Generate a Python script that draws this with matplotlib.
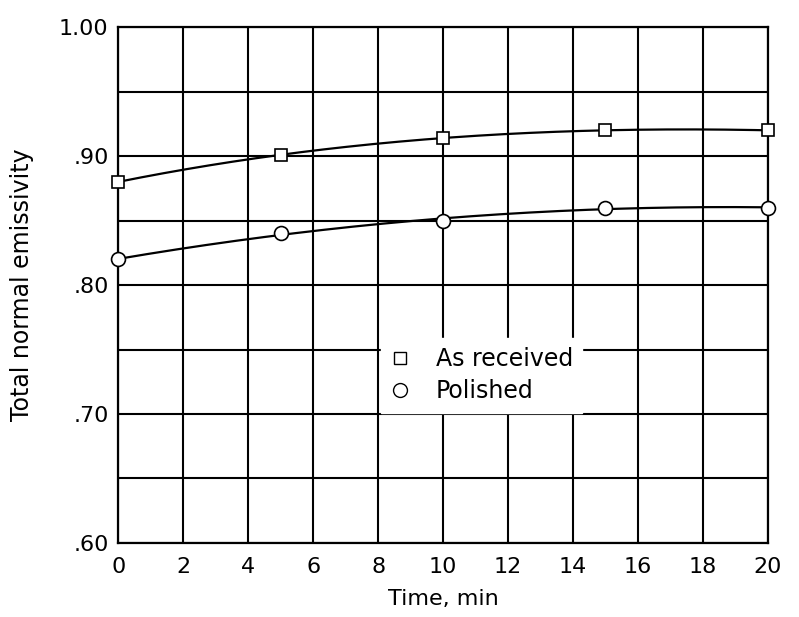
import numpy as np
import matplotlib
matplotlib.use("Agg")
import matplotlib.pyplot as plt
from matplotlib.lines import Line2D

# time, min
t = [0, 5, 10, 15, 20]
as_received = [0.880, 0.901, 0.914, 0.920, 0.920]
polished = [0.820, 0.840, 0.850, 0.860, 0.860]

xticks = list(range(0, 21, 2))
yticks = [0.60, 0.70, 0.80, 0.90, 1.00]
ytick_labels = [".60", ".70", ".80", ".90", "1.00"]

plt.rcParams["font.family"] = ["DejaVu Sans"]

fig = plt.figure(figsize=(7.99, 6.17), dpi=100)
ax = fig.add_axes([0.148, 0.12, 0.813, 0.836])

# faired curves through the data (cubic fit)
tt = np.linspace(0, 20, 200)
for ys in (as_received, polished):
    c = np.polyfit(t, ys, 3)
    ax.plot(tt, np.polyval(c, tt), color="black", lw=1.6, zorder=3)

ax.plot(t, as_received, ls="none", marker="s", ms=9, mfc="white",
        mec="black", mew=1.2, zorder=4, clip_on=False)
ax.plot(t, polished, ls="none", marker="o", ms=10, mfc="white",
        mec="black", mew=1.2, zorder=4, clip_on=False)

ax.set_xlim(0, 20)
ax.set_ylim(0.60, 1.00)
ax.set_xticks(xticks)
ax.set_yticks(yticks)
ax.set_yticklabels(ytick_labels)
ax.set_yticks(np.arange(0.60, 1.001, 0.05), minor=True)
ax.grid(True, which="both", color="black", lw=1.5)
ax.tick_params(which="both", length=0, labelsize=16)
ax.tick_params(axis="x", pad=10)
ax.tick_params(axis="y", pad=7)
for s in ax.spines.values():
    s.set_linewidth(1.6)

ax.set_xlabel("Time, min", fontsize=16, labelpad=9)
ax.set_ylabel("Total normal emissivity", fontsize=17, labelpad=18)

handles = [
    Line2D([], [], ls="none", marker="s", ms=9, mfc="white", mec="black", mew=1.0),
    Line2D([], [], ls="none", marker="o", ms=10, mfc="white", mec="black", mew=1.0),
]
leg = ax.legend(handles, ["As received", "Polished"], loc="lower left",
                bbox_to_anchor=(8.1, 0.701), bbox_transform=ax.transData,
                borderaxespad=0, fontsize=17, frameon=True, fancybox=False,
                framealpha=1, edgecolor="white", handletextpad=1.1,
                borderpad=0.4, labelspacing=0.35, handlelength=0.8)
leg.set_zorder(5)

fig.savefig("out.png", dpi=100)
